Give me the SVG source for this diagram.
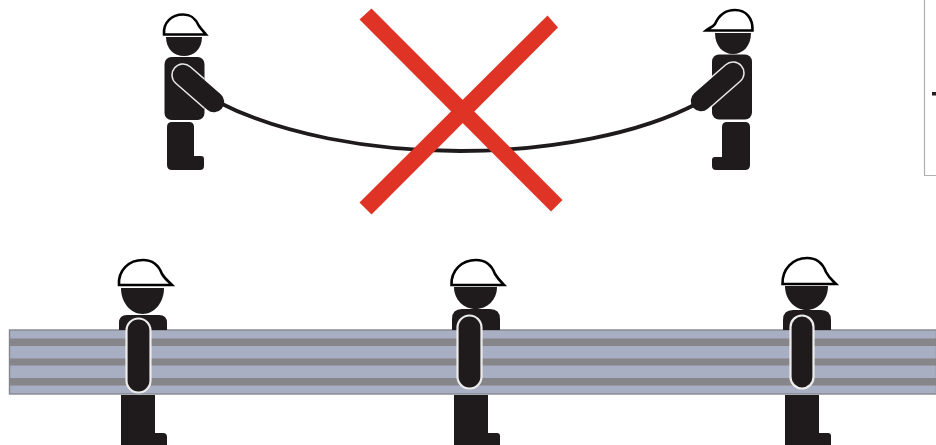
<svg xmlns="http://www.w3.org/2000/svg" width="936" height="445" viewBox="0 0 936 445">
<defs>
<clipPath id="body-left"><rect x="164.500" y="57" width="40" height="63" rx="7"/></clipPath>
<clipPath id="body-right"><rect x="712" y="54.500" width="40" height="65" rx="7"/></clipPath>
</defs>
<style>
.k{fill:#1f1b1c}
.hat{fill:#fff;stroke:#000;stroke-width:2.600;stroke-linejoin:miter}
.arm{fill:#1f1b1c;stroke:#ececec;stroke-width:2.200}
.halo{stroke:#e8e8e8;stroke-width:23.500;stroke-linecap:round}
.limb{stroke:#1f1b1c;stroke-width:20.500;stroke-linecap:round}
.stripe{fill:#86868a}
.rope{fill:none;stroke:#1f1b1c;stroke-width:3.800;stroke-linecap:round}
.x{fill:#df3325}
</style>
<rect width="936" height="445" fill="#fff"/>
<g id="panel-edge">
<path d="M924.500 0V175.500H936" fill="none" stroke="#b0b0b0" stroke-width="1.200"/>
<rect x="932" y="92" width="4" height="3.500" fill="#231f20"/>
</g>
<g id="worker-top-left">
<path class="hat" d="M164 34.500C163 22 172 14.500 183 14.500C192 14.500 196 19 199 26C201 29 204 32 206 34.500Z"/>
<path class="k" d="M166 37H202C202 49 194 56 184 56C174 56 166 49 166 37Z"/>
<rect class="k" x="164.500" y="57" width="40" height="63" rx="7"/>
<path class="k" d="M167 127Q167 122 172 122H189Q194 122 194 127V156H201Q204 156 204 159V166Q204 170 200 170H172Q167 170 167 165Z"/>
<line class="halo" x1="183" y1="75" x2="214" y2="102" clip-path="url(#body-left)"/>
<line class="limb" x1="183" y1="75" x2="214" y2="102"/>
</g>
<g id="worker-top-right">
<path class="hat" d="M706 30.500C709 28 713 27 715 24C719 15 726 10 735 10C746 10 753 18 752.500 30.500Z"/>
<path class="k" d="M715 33H751C751 46 743 54 733 54C723 54 715 46 715 33Z"/>
<rect class="k" x="712" y="54.500" width="40" height="65" rx="7"/>
<path class="k" d="M722 127Q722 122 727 122H745Q750 122 750 127V165Q750 170 745 170H716Q712 170 712 166V160Q712 157 715 157H722Z"/>
<line class="halo" x1="733" y1="73" x2="701" y2="101" clip-path="url(#body-right)"/>
<line class="limb" x1="733" y1="73" x2="701" y2="101"/>
</g>
<g id="connectors">
<path class="rope" d="M218 102C280 134 370 151 460 151C550 151 640 134 698 103"/>
</g>
<g id="cross">
<polygon class="x" points="371.500,8.500 359.500,19.500 551,211.500 562.500,200"/>
<polygon class="x" points="547.500,15.500 558,27.500 371.500,214.500 359.500,202.500"/>
</g>
<g id="guard-rail">
<rect x="9.500" y="330" width="927" height="64" fill="#a8afc3" stroke="#85858f" stroke-width="1.400"/>
<rect class="stripe" x="10" y="338.500" width="926" height="7.500"/>
<rect class="stripe" x="10" y="358.500" width="926" height="7"/>
<rect class="stripe" x="10" y="378" width="926" height="7.500"/>
</g>
<g id="worker-bottom-1">
<path class="hat" d="M119 285C118 270 129 260 143 260C153 260 159 266 162 274C165 279 169 282 172 285Z"/>
<path class="k" d="M121 288H164C164 303 154 314 142.500 314C131 314 121 303 121 288Z"/>
<path class="k" d="M119 330V323Q119 315 127 315H159Q167 315 167 323V330Z"/>
<path class="k" d="M121 395H155V433H163Q167 433 167 437V445H121Z"/>
<rect class="arm" x="126.500" y="318.500" width="24" height="74" rx="12"/>
</g>
<g id="worker-bottom-2">
<path class="hat" d="M451.500 285C451 270 462 260 476 260C486 260 492 266 495 274C498 279 501 282 504 285Z"/>
<path class="k" d="M454 287H497C497 300 487 309 475.500 309C464 309 454 300 454 287Z"/>
<path class="k" d="M452 330V319Q452 309 462 309H490Q500 309 500 319V330Z"/>
<path class="k" d="M454 395H488V433H497Q500 433 500 436V445H454Z"/>
<rect class="arm" x="457.500" y="315.500" width="24" height="73" rx="12"/>
</g>
<g id="worker-bottom-3">
<path class="hat" d="M782.500 284C782 269 793 258 807 258C817 258 823 264 826 272C829 278 833 281 836 284Z"/>
<path class="k" d="M785 286H828C828 300 818 310 806.500 310C795 310 785 300 785 286Z"/>
<path class="k" d="M783 330V320Q783 310 793 310H821Q831 310 831 320V330Z"/>
<path class="k" d="M785 395H819V433H828Q831 433 831 436V445H785Z"/>
<rect class="arm" x="790.500" y="315.500" width="23" height="73" rx="11.500"/>
</g>
</svg>
